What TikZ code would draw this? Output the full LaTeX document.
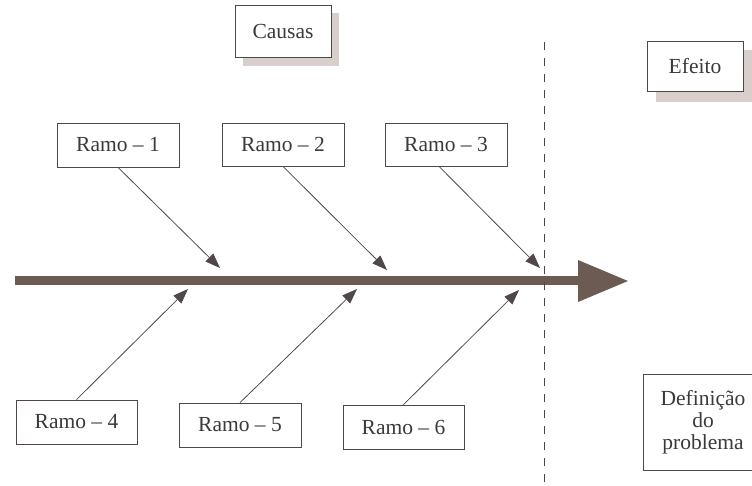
\documentclass[tikz,border=0pt]{standalone}
\usepackage{fontspec}
\setmainfont{Liberation Serif}
\usetikzlibrary{arrows.meta,calc,backgrounds}
\definecolor{maincol}{HTML}{6B5B52}
\definecolor{linecol}{HTML}{4F4848}
\definecolor{shadowc}{HTML}{D8CFCC}
\definecolor{txtcol}{HTML}{3A3A3A}
\tikzset{
  rbox/.style={draw=linecol, line width=0.8pt, fill=white, inner sep=0pt,
    minimum width=122pt, minimum height=44pt, text=txtcol,
    font=\fontsize{21.5}{22}\selectfont},
  branch/.style={draw=linecol, line width=0.8pt,
    -{Triangle[length=15pt,width=11pt]}},
  shadowbox/.style={fill=shadowc, draw=none},
}
\begin{document}
\begin{tikzpicture}[x=1pt,y=-1pt]
\useasboundingbox (0,0) rectangle (752,486);
\clip (0,0) rectangle (752,486);

% boxes
\node[rbox] (r1) at (118,145) {Ramo – 1};
\node[rbox, minimum height=43pt] (r2) at (283,144.5) {Ramo – 2};
\node[rbox, minimum height=43pt] (r3) at (446,144.5) {Ramo – 3};
\node[rbox, minimum width=121pt] (r4) at (76.5,422) {Ramo – 4};
\node[rbox] (r5) at (240,425) {Ramo – 5};
\node[rbox, minimum width=121pt] (r6) at (403.5,427) {Ramo – 6};
\node[rbox, minimum width=96pt, minimum height=52pt] (causas) at (283,31) {Causas};
\node[rbox, minimum width=96pt, minimum height=50pt] (efeito) at (695,66) {Efeito};
\node[rbox, minimum width=120pt, minimum height=96pt, align=center] (def) at (703,422) {Definição\\do\\problema};

\begin{scope}[on background layer]
  \fill[shadowbox] ($(causas.north west)+(8,8)$) rectangle ($(causas.south east)+(8,9)$);
  \fill[shadowbox] ($(efeito.north west)+(9,9)$) rectangle ($(efeito.south east)+(12,11)$);
\end{scope}

% spine
\coordinate (mstart) at (15,280.5);
\coordinate (mend) at (580,280.5);
\coordinate (mtip) at (628,281);
\draw[maincol, line width=9pt] (mstart) -- (mend);
\fill[maincol] (578,260) -- (mtip) -- (578,302) -- cycle;

% dashed divider
\coordinate (dtop) at (544,42);
\coordinate (dbot) at (544,486);
\draw[linecol, line width=0.9pt, dash pattern=on 8pt off 8pt] (dtop) -- (dbot);

% branch targets
\coordinate (t1) at (220,268);
\coordinate (t2) at (387,270);
\coordinate (t3) at (540,268);
\coordinate (t4) at (188,289);
\coordinate (t5) at (357,289);
\coordinate (t6) at (519,290);

\draw[branch] (r1.south) -- (t1);
\draw[branch] (r2.south) -- (t2);
\draw[branch] ($(r3.south)+(-7,0)$) -- (t3);
\draw[branch] (r4.north) -- (t4);
\draw[branch] (r5.north) -- (t5);
\draw[branch] (r6.north) -- (t6);
\end{tikzpicture}
\end{document}
